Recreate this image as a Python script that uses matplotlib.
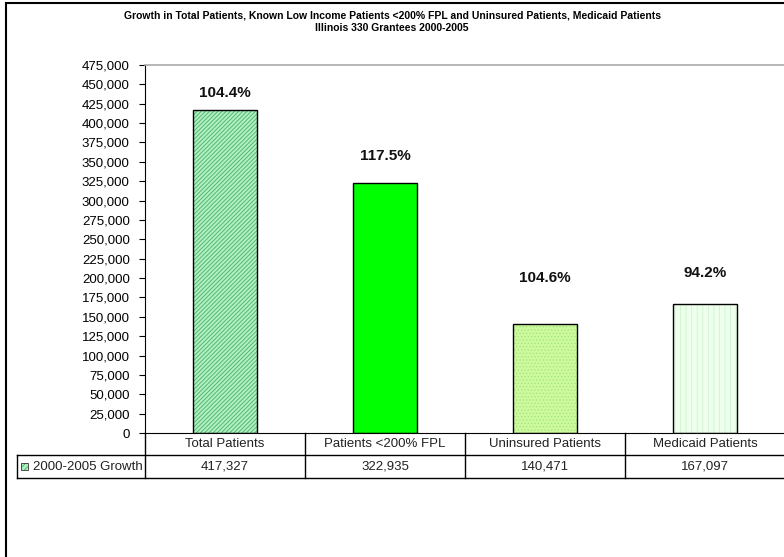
import matplotlib.pyplot as plt
import matplotlib.patches as mpatches
from matplotlib.ticker import MultipleLocator, FuncFormatter

plt.rcParams['font.family'] = ['Liberation Sans', 'DejaVu Sans']
plt.rcParams['hatch.linewidth'] = 0.6

# data
categories = ['Total Patients', 'Patients <200% FPL', 'Uninsured Patients', 'Medicaid Patients']
growth = [417327, 322935, 140471, 167097]
pct_labels = ['104.4%', '117.5%', '104.6%', '94.2%']
label_y = [430000, 348000, 191000, 197500]
series_name = '2000-2005 Growth'

face = ['#b0f0c0', '#00ff00', '#cdfa9f', '#eeffee']
hatch = ['////////', None, '.....', '|||']
hatch_col = ['#4aae6a', '#00ff00', '#a6e47a', '#cdf5cd']

fig = plt.figure(figsize=(7.84, 5.57), dpi=100)
ax = fig.add_axes([145/784, 1-433/557, 640/784, 368/557])

x = list(range(len(categories)))
for i in x:
    ax.bar(i, growth[i], width=0.4, color=face[i], hatch=hatch[i],
           edgecolor=hatch_col[i], linewidth=0, zorder=2)
    ax.bar(i, growth[i], width=0.4, color='none', edgecolor='black',
           linewidth=1.0, zorder=3)
    ax.text(i, label_y[i], pct_labels[i], ha='center', va='bottom',
            fontsize=11, fontweight='bold', color='#111111')

ax.set_xlim(-0.5, 3.5)
ax.set_ylim(0, 475000)
ax.yaxis.set_major_locator(MultipleLocator(25000))
ax.yaxis.set_major_formatter(FuncFormatter(lambda v, p: f'{int(v):,}'))
ax.tick_params(axis='y', direction='out', length=4, pad=7, labelsize=9.5, colors='black')
ax.set_xticks([])
ax.spines['top'].set_color('#aaaaaa')
ax.spines['right'].set_color('#aaaaaa')
ax.spines['top'].set_linewidth(1.2)

# data table under the plot, drawn by hand in axes coords
r1 = -22/368
r2 = -45/368
lab_left = -128/640
tkw = dict(transform=ax.transAxes, clip_on=False, color='black', lw=1.0)
ax.plot([lab_left, 1], [r1, r1], **tkw)
ax.plot([lab_left, 1], [r2, r2], **tkw)
ax.plot([lab_left, lab_left], [r1, r2], **tkw)
for j in range(len(categories) + 1):
    ax.plot([j/4, j/4], [0, r2], **tkw)
for j, cat in enumerate(categories):
    ax.text((j + 0.5)/4, r1/2, cat, transform=ax.transAxes, ha='center', va='center',
            fontsize=9.5, color='#222222')
    ax.text((j + 0.5)/4, (r1 + r2)/2, f'{growth[j]:,}', transform=ax.transAxes,
            ha='center', va='center', fontsize=9.5, color='#222222')
ax.text(lab_left + 16/640, (r1 + r2)/2, series_name, transform=ax.transAxes,
        ha='left', va='center', fontsize=9.5, color='#222222')

# legend swatch in the row label
sw = mpatches.Rectangle((21/784, 1-470/557), 7/784, 7/557, transform=fig.transFigure,
                        facecolor=face[0], hatch='//////', edgecolor=hatch_col[0], linewidth=0)
fig.patches.append(sw)
fig.patches.append(mpatches.Rectangle((21/784, 1-470/557), 7/784, 7/557, transform=fig.transFigure,
                                      facecolor='none', edgecolor='#333333', linewidth=0.6))

fig.text(0.5, 1-15/557, 'Growth in Total Patients, Known Low Income Patients <200% FPL and Uninsured Patients, Medicaid Patients',
         ha='center', va='center', fontsize=7.5, fontweight='bold', family=['Liberation Sans Narrow', 'Liberation Sans'])
fig.text(0.5, 1-28/557, 'Illinois 330 Grantees 2000-2005',
         ha='center', va='center', fontsize=7.5, fontweight='bold', family=['Liberation Sans Narrow', 'Liberation Sans'])

border = mpatches.Rectangle((6/784, -0.05), 1.1, 1.05 - 3/557, transform=fig.transFigure,
                            facecolor='none', edgecolor='black', linewidth=1.5)
fig.patches.append(border)

fig.savefig('out.png', dpi=100)
